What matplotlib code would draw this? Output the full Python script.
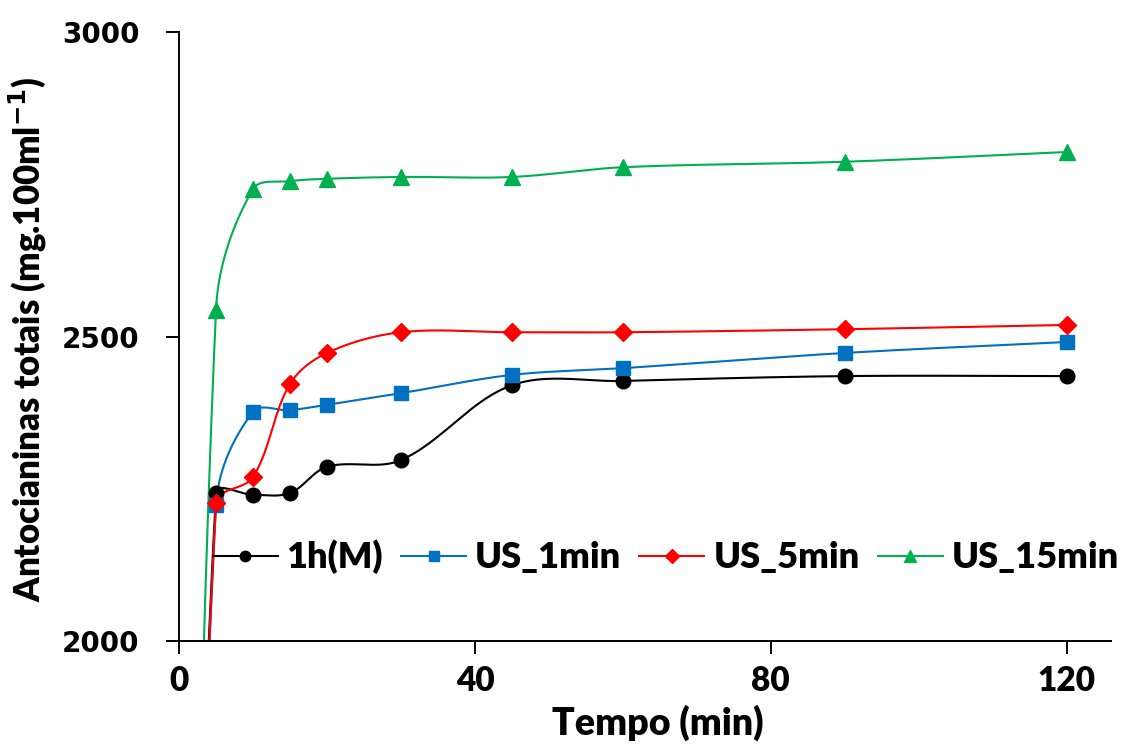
import numpy as np
import matplotlib
matplotlib.use("Agg")
import matplotlib.pyplot as plt
from matplotlib.lines import Line2D

# Tempo de extração (min) e antocianinas totais (mg.100ml-1)
tempo = [0, 5, 10, 15, 20, 30, 45, 60, 90, 120]
serie_1h = [0, 2243, 2240, 2243, 2286, 2297, 2420, 2427, 2435, 2435]
serie_us1 = [0, 2223, 2376, 2379, 2388, 2407, 2437, 2448, 2473, 2491]
serie_us5 = [0, 2227, 2269, 2422, 2473, 2507, 2507, 2507, 2512, 2519]
serie_us15 = [0, 2544, 2742, 2755, 2759, 2762, 2762, 2778, 2787, 2803]

nomes = ["1h(M)", "US_1min", "US_5min", "US_15min"]
cores = ["#000000", "#0070C0", "#FF0000", "#00B050"]
marcadores = ["o", "s", "D", "^"]
tamanhos = [10.5, 10.5, 9.5, 11]
tam_legenda = [7.5, 7.5, 7, 8]

XMAX = 126
YMIN, YMAX = 2000, 3000


def suavizar(x, y, n=40):
    # curva suavizada (Bezier), tangentes ponderadas pelo comprimento dos segmentos,
    # calculada em coordenadas de tela aproximadas
    sx, sy = 932.0 / XMAX, 609.0 / (YMAX - YMIN)
    p = np.column_stack([np.asarray(x) * sx, np.asarray(y) * sy]).astype(float)
    m = len(p)
    dirs = []
    for i in range(m):
        a = p[max(i - 1, 0)]
        b = p[min(i + 1, m - 1)]
        d = b - a
        dirs.append(d / np.linalg.norm(d))
    pts = []
    for i in range(m - 1):
        p1, p2 = p[i], p[i + 1]
        L = np.linalg.norm(p2 - p1)
        c1 = p1 + dirs[i] * L / 3.0
        c2 = p2 - dirs[i + 1] * L / 3.0
        t = np.linspace(0, 1, n)[:, None]
        seg = ((1 - t) ** 3) * p1 + 3 * ((1 - t) ** 2) * t * c1 + 3 * (1 - t) * t ** 2 * c2 + t ** 3 * p2
        pts.append(seg if i == 0 else seg[1:])
    pts = np.vstack(pts)
    return pts[:, 0] / sx, pts[:, 1] / sy


fig = plt.figure(figsize=(11.28, 7.45), dpi=100)
ax = fig.add_axes([0.1587, 0.1396, 0.8263, 0.8174])

series = [serie_1h, serie_us1, serie_us5, serie_us15]
handles = []
for valores, nome, cor, mk, ms, msl in zip(series, nomes, cores, marcadores, tamanhos, tam_legenda):
    xs, ys = suavizar(tempo, valores)
    ax.plot(xs, ys, color=cor, lw=1.5, zorder=2)
    ax.plot(tempo[1:], valores[1:], ls="none", marker=mk, ms=ms, color=cor, zorder=3)
    handles.append(Line2D([], [], color=cor, lw=1.5, marker=mk, ms=msl))

ax.set_xlim(0, XMAX)
ax.set_ylim(YMIN, YMAX)
ax.set_xticks([0, 40, 80, 120])
ax.set_yticks([2000, 2500, 3000])
ax.spines["top"].set_visible(False)
ax.spines["right"].set_visible(False)
for s in ("left", "bottom"):
    ax.spines[s].set_linewidth(1.4)
ax.tick_params(direction="out", length=9.5, width=1.4)
ax.tick_params(axis="y", pad=19)
ax.tick_params(axis="x", pad=8)

for lb in ax.get_xticklabels():
    lb.set_fontfamily("Lato")
    lb.set_fontweight("heavy")
    lb.set_fontsize(24)
for lb in ax.get_yticklabels():
    lb.set_fontfamily("DejaVu Sans")
    lb.set_fontweight("bold")
    lb.set_fontsize(20)

ax.set_xlabel("Tempo (min)", fontsize=27, fontweight="heavy", family="Lato")
ax.xaxis.set_label_coords((658 - 179) / 932, -0.105)
ax.set_ylabel("Antocianinas totais (mg.100ml$^{\\mathbf{-1}}$)", fontsize=25,
              fontweight="heavy", family="Lato")
ax.yaxis.set_label_coords(-0.139, 0.495)

ax.legend(handles, nomes, loc="center left", bbox_to_anchor=(0.036, 0.138), ncol=4,
          frameon=False, handlelength=1.8, handletextpad=0.25, columnspacing=0.5,
          borderpad=0, borderaxespad=0,
          prop={"family": "Lato", "weight": "heavy", "size": 26})

fig.savefig("out.png", dpi=100)
